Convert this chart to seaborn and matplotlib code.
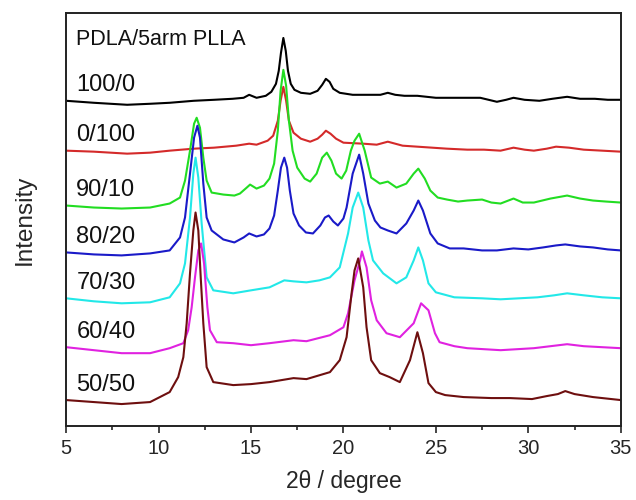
import numpy as np
import pandas as pd
import matplotlib
matplotlib.use('Agg')
import matplotlib.pyplot as plt
from matplotlib.ticker import MultipleLocator
import seaborn as sns

# sample names (PDLA/5arm PLLA) top to bottom
samples = ['100/0', '0/100', '90/10', '80/20', '70/30', '60/40', '50/50']
colors = ['#000000', '#d42a2a', '#22dd22', '#1a1ac8', '#22e8e8', '#e022e0', '#6e0f0f']

# 2theta / intensity (arbitrary units, curves already offset)
tt_100_0 = [5, 6.5, 8.3, 9.54, 10.6, 11.9, 13.0, 14.0, 14.6, 14.9, 15.3, 15.8, 16.1, 16.35, 16.5,
            16.62, 16.75, 16.88, 17.0, 17.15, 17.35, 17.7, 18.2, 18.6, 18.85, 19.05, 19.25,
            19.45, 19.8, 20.5, 21.3, 22.0, 22.4, 22.8, 23.3, 24.0, 25.0, 26.0, 27.4, 28.3,
            28.8, 29.2, 29.8, 30.6, 31.3, 32.1, 32.8, 33.6, 34.3, 35]
in_100_0 = [325, 323, 321, 322, 323, 325, 326, 327, 328, 331, 328, 330, 334, 342, 355,
            373, 388, 375, 355, 342, 336, 333, 332, 335, 341, 347, 344,
            337, 333, 331, 331, 331, 333, 331, 330, 330, 328, 328, 328, 324,
            326, 328, 326, 325, 327, 329, 327, 327, 326, 326]

tt_0_100 = [5, 6.5, 8.3, 9.54, 10.6, 11.9, 13.0, 14.2, 14.9, 15.3, 15.9, 16.2, 16.45, 16.6,
            16.75, 16.9, 17.05, 17.3, 17.7, 18.2, 18.6, 18.85, 19.05, 19.3, 19.6, 20.0, 21.07,
            21.8, 22.4, 23.2, 24.0, 24.8, 25.6, 26.7, 27.6, 28.5, 29.2, 29.8, 30.3, 31.0,
            31.5, 32.2, 33.0, 34.0, 35]
in_0_100 = [275, 274, 272, 273, 275, 277, 278, 280, 282, 281, 285, 290, 305, 325,
            339, 325, 305, 293, 287, 284, 287, 291, 295, 292, 287, 283, 282,
            281, 284, 280, 279, 278, 277, 276, 276, 275, 278, 276, 275, 277,
            279, 278, 276, 275, 274]

tt_90_10 = [5, 6.5, 8, 9.54, 10.6, 11.16, 11.43, 11.7, 11.92, 12.06, 12.24, 12.42, 12.6, 12.87,
            13.5, 14.1, 14.4, 14.77, 14.95, 15.3, 15.7, 16.0, 16.25, 16.45, 16.6, 16.75, 16.9,
            17.05, 17.25, 17.5, 17.9, 18.2, 18.55, 18.85, 19.1, 19.35, 19.6, 19.9, 20.15,
            20.4, 20.6, 20.85, 21.15, 21.5, 21.97, 22.4, 22.87, 23.4, 23.8, 24.05, 24.4,
            24.7, 25.1, 25.6, 26.2, 26.7, 27.5, 28.0, 28.5, 29.2, 29.7, 30.3, 31.2, 32.1,
            32.8, 33.5, 34.2, 35]
in_90_10 = [220, 218, 217, 218, 222, 228, 245, 275, 302, 308, 298, 268, 245, 233,
            231, 230, 232, 238, 241, 237, 240, 247, 262, 295, 335, 356, 340,
            305, 275, 258, 247, 244, 252, 268, 273, 265, 252, 247, 255,
            275, 285, 292, 275, 248, 242, 244, 238, 242, 252, 257, 247,
            235, 228, 226, 224, 225, 226, 223, 222, 227, 223, 223, 227, 230,
            227, 225, 224, 223]

tt_80_20 = [5, 6.5, 8, 9.54, 10.6, 11.16, 11.43, 11.7, 11.92, 12.1, 12.24, 12.42, 12.6, 12.87,
            13.5, 14.1, 14.6, 14.9, 15.3, 15.7, 16.0, 16.25, 16.45, 16.62, 16.8, 16.95, 17.1,
            17.3, 17.6, 17.97, 18.35, 18.75, 19.0, 19.2, 19.45, 19.7, 20.0, 20.17, 20.5,
            20.85, 21.07, 21.35, 21.7, 22.0, 22.4, 22.87, 23.4, 23.8, 24.05, 24.3, 24.7,
            25.1, 25.75, 26.5, 27.5, 28.3, 29.2, 30.0, 30.8, 31.5, 32.0, 32.8, 33.5, 34.3, 35]
in_80_20 = [173, 171, 170, 172, 175, 188, 208, 252, 288, 300, 288, 242, 208, 195,
            186, 183, 188, 192, 189, 191, 197, 210, 235, 258, 268, 258, 235,
            212, 200, 193, 192, 200, 208, 210, 204, 200, 207, 218, 252,
            271, 252, 222, 205, 198, 195, 192, 202, 215, 225, 215, 192,
            182, 177, 177, 175, 175, 177, 176, 178, 180, 181, 179, 178, 176, 175]

tt_70_30 = [5, 6.5, 8, 9.54, 10.6, 11.16, 11.43, 11.7, 11.88, 12.0, 12.15, 12.33, 12.6, 12.96,
            14.04, 15.0, 16.0, 16.8, 17.3, 18.0, 18.7, 19.27, 19.8, 20.25, 20.5, 20.8, 21.07,
            21.35, 21.6, 22.15, 22.87, 23.4, 23.8, 24.05, 24.3, 24.6, 25.0, 26.0, 27.5,
            28.5, 29.5, 30.5, 31.4, 32.1, 33.0, 34.0, 35]
in_70_30 = [127, 124, 122, 123, 128, 142, 162, 208, 252, 268, 248, 202, 148, 135,
            132, 135, 138, 145, 144, 143, 145, 148, 158, 192, 218, 233, 218,
            185, 165, 152, 142, 148, 165, 178, 165, 142, 133, 128, 127,
            126, 127, 128, 130, 132, 130, 128, 127]

tt_60_40 = [5, 6.5, 8, 9.54, 10.6, 11.34, 11.6, 11.79, 11.97, 12.15, 12.3, 12.46, 12.64, 12.78,
            13.15, 14.04, 15.0, 16.0, 17.3, 18.0, 19.27, 20.0, 20.25, 20.6, 20.9, 21.0,
            21.25, 21.5, 21.8, 22.33, 23.05, 23.8, 24.2, 24.6, 24.95, 25.2, 26.0, 26.7,
            27.6, 28.5, 29.4, 30.3, 31.2, 32.1, 33.0, 34.0, 35]
in_60_40 = [78, 75, 72, 72, 77, 82, 95, 118, 148, 175, 182, 162, 118, 95,
            83, 82, 80, 82, 85, 84, 90, 98, 112, 145, 165, 174,
            158, 125, 105, 92, 88, 102, 122, 115, 92, 83, 79, 77,
            76, 75, 76, 77, 79, 81, 79, 78, 77]

tt_50_50 = [5, 6.5, 8, 9.54, 10.6, 11.06, 11.34, 11.52, 11.7, 11.88, 12.0, 12.15, 12.28, 12.42,
            12.6, 12.96, 14.04, 15.0, 16.0, 17.3, 18.0, 19.27, 19.8, 20.17, 20.44, 20.6, 20.8,
            21.07, 21.25, 21.5, 21.97, 22.5, 23.05, 23.6, 24.0, 24.3, 24.6, 25.0, 25.5,
            26.5, 28.0, 29.0, 30.2, 31.0, 31.6, 32.0, 32.5, 33.5, 35]
in_50_50 = [25, 23, 21, 23, 33, 48, 68, 102, 152, 195, 213, 195, 148, 102,
            58, 43, 40, 41, 43, 47, 46, 53, 65, 88, 132, 155, 167,
            138, 98, 65, 52, 48, 43, 65, 93, 72, 42, 33, 30,
            28, 27, 27, 26, 29, 31, 34, 31, 28, 25]

curves = [(tt_100_0, in_100_0), (tt_0_100, in_0_100), (tt_90_10, in_90_10),
          (tt_80_20, in_80_20), (tt_70_30, in_70_30), (tt_60_40, in_60_40),
          (tt_50_50, in_50_50)]

frames = []
for name, (tt, inten) in zip(samples, curves):
    frames.append(pd.DataFrame({'two_theta': tt, 'intensity': inten, 'sample': name}))
df = pd.concat(frames, ignore_index=True)

sns.set_style('white')
plt.rcParams['font.family'] = ['Liberation Sans', 'DejaVu Sans']

fig = plt.figure(figsize=(6.36, 5.0), dpi=100)
ax = fig.add_axes([0.104, 0.148, 0.872, 0.826])

sns.lineplot(data=df, x='two_theta', y='intensity', hue='sample', hue_order=samples,
             palette=colors, estimator=None, sort=False, legend=False, lw=1.5, ax=ax)

for name, (tt, inten) in zip(samples, curves):
    ax.text(5.55, inten[0] + 18, name, fontsize=17, va='center_baseline', ha='left',
            color='#111111')
ax.text(5.55, 389, 'PDLA/5arm PLLA', fontsize=15.5, va='center_baseline', ha='left',
        color='#111111')

ax.set_xlim(5, 35)
ax.set_ylim(-1, 413)
ax.xaxis.set_major_locator(MultipleLocator(5))
ax.xaxis.set_minor_locator(MultipleLocator(2.5))
ax.tick_params(axis='x', which='major', direction='out', length=5, width=1.2, labelsize=14.5,
               pad=4, bottom=True)
ax.tick_params(axis='x', which='minor', direction='out', length=3, width=1.2, bottom=True)
ax.set_yticks([])
for s in ax.spines.values():
    s.set_color('#222222')
    s.set_linewidth(1.4)

ax.set_xlabel('2\u03b8 / degree', fontsize=16.5, labelpad=9)
ax.set_ylabel('Intensity', fontsize=17.5, labelpad=22)

fig.savefig('out.png', dpi=100)
